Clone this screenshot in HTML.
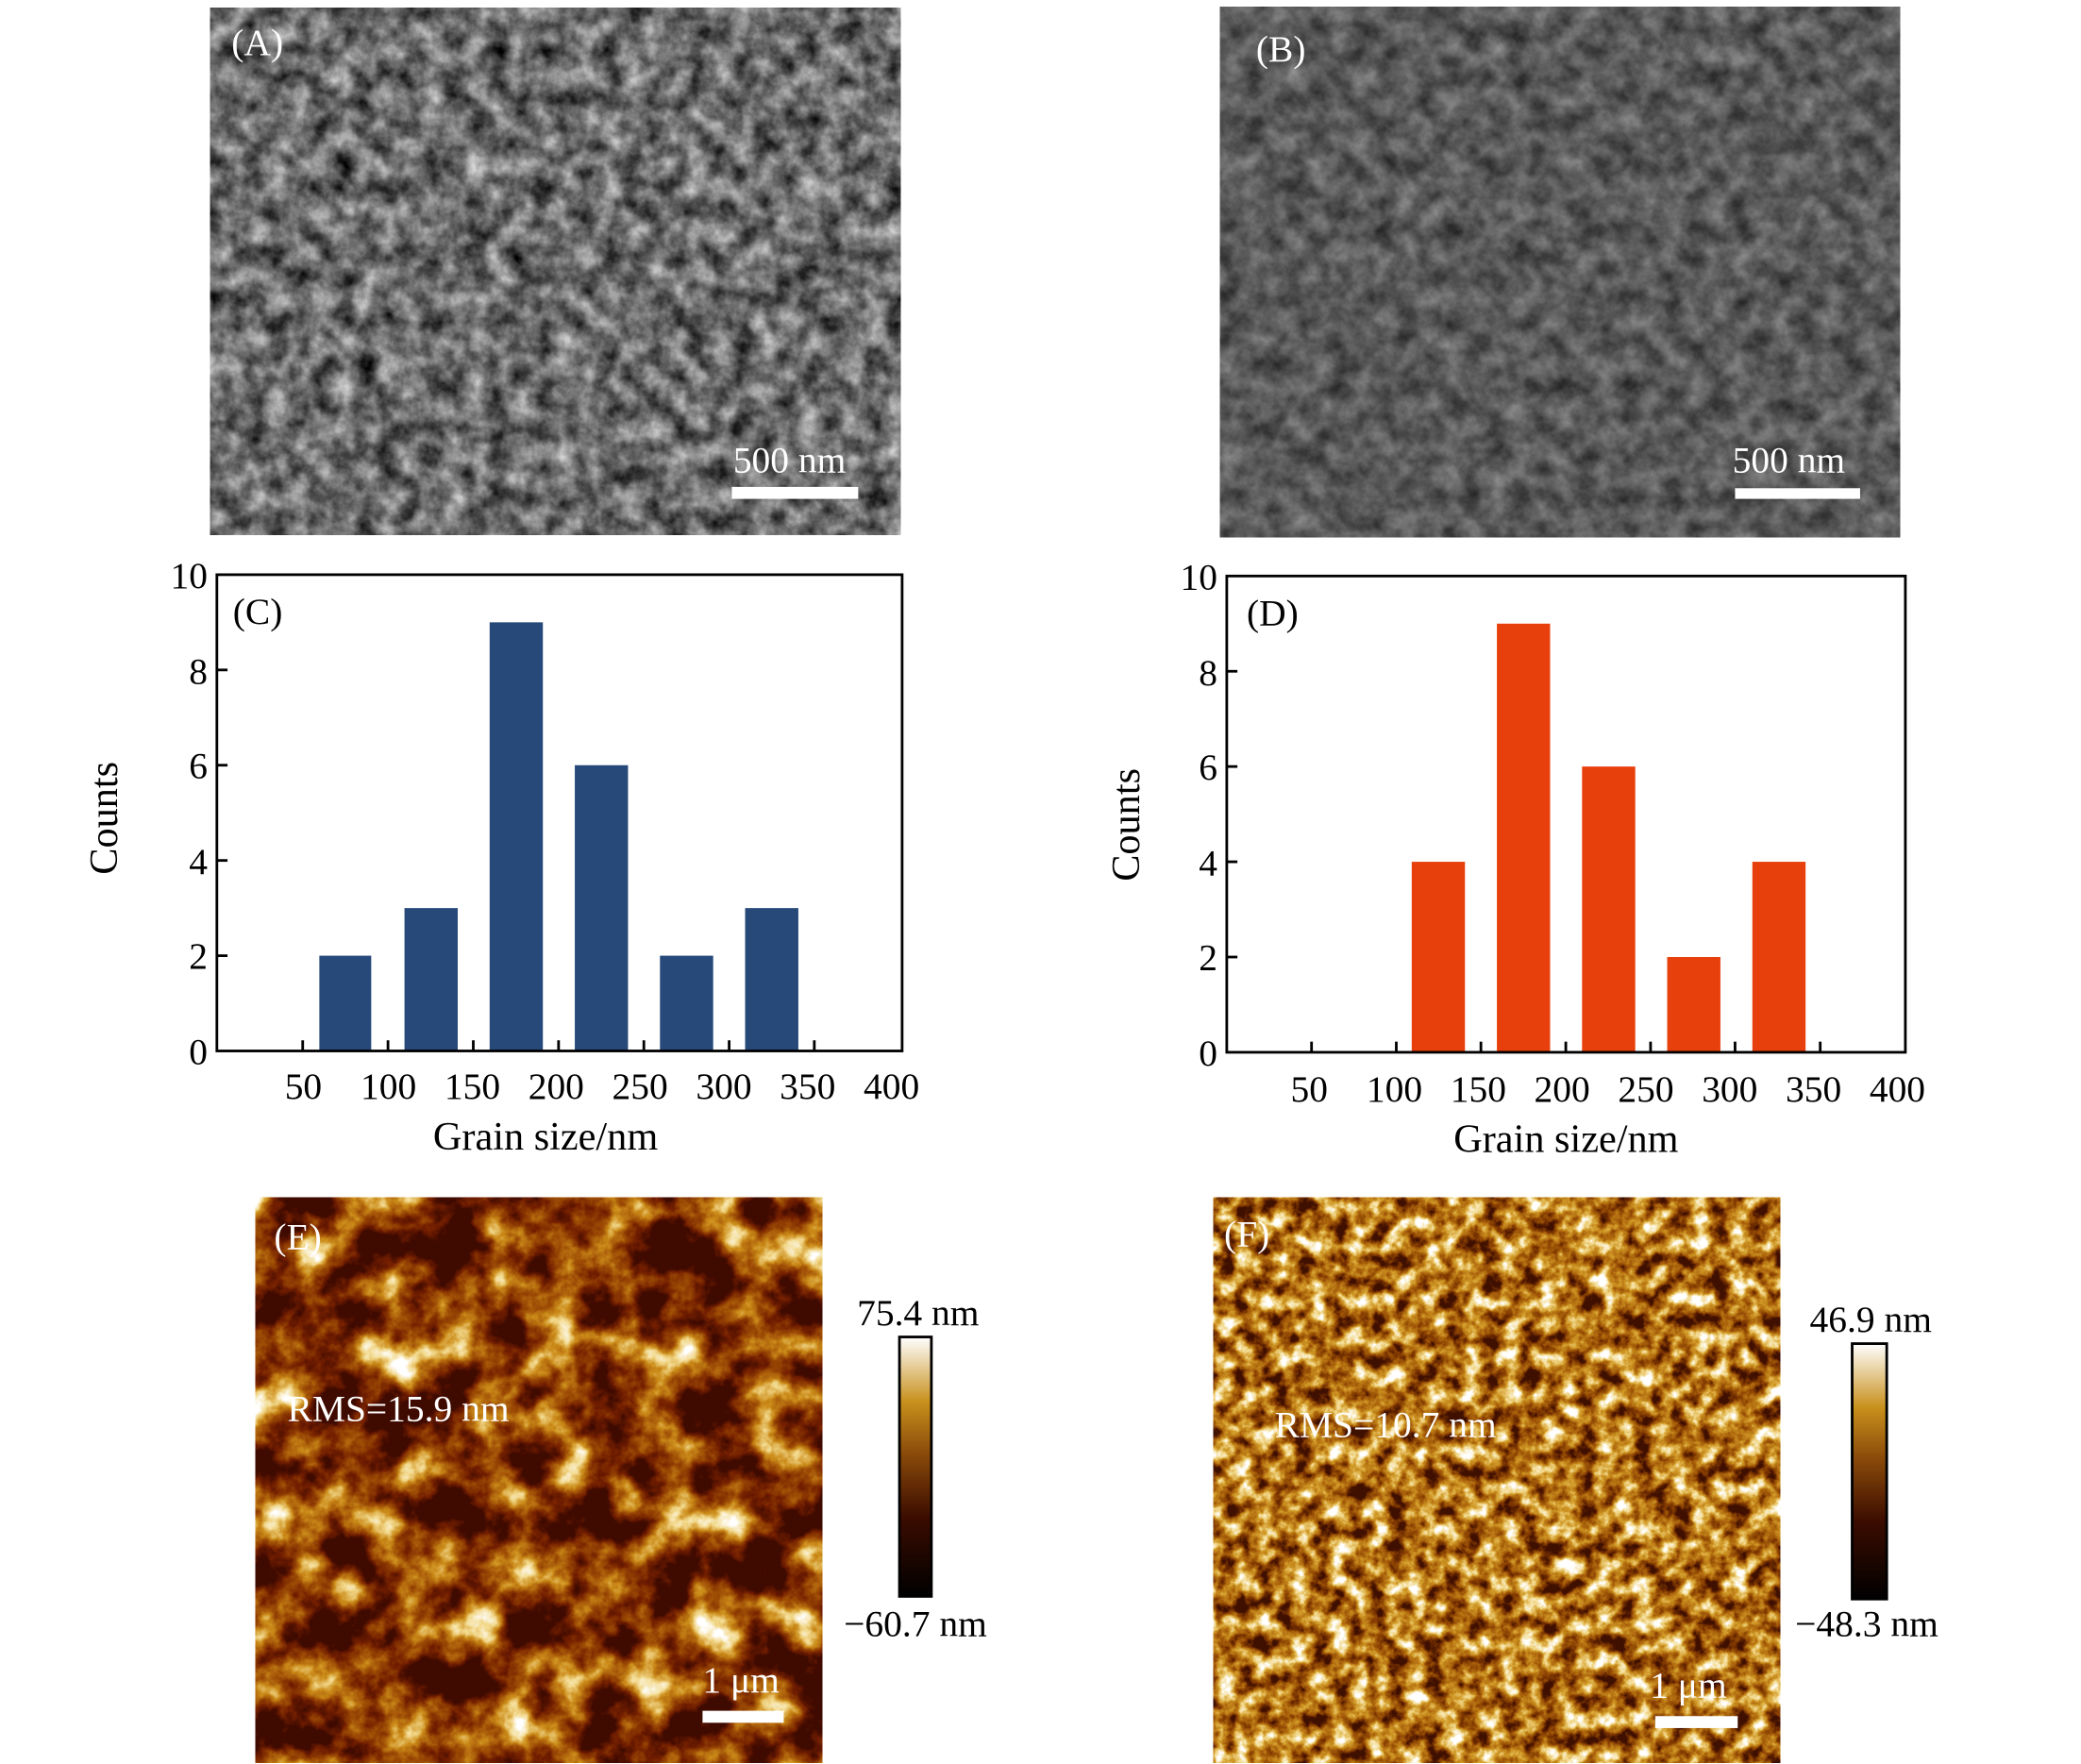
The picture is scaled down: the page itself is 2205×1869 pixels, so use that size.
<!DOCTYPE html>
<html><head><meta charset="utf-8"><style>
html,body{margin:0;padding:0;background:#fff;}
svg{display:block;}
filter{color-interpolation-filters:sRGB;}
</style></head><body>
<svg width="2205" height="1869" viewBox="0 0 1564 1326" preserveAspectRatio="none" xmlns="http://www.w3.org/2000/svg" font-family="'Liberation Serif', 'Times New Roman', serif">
<defs>
<filter id="semA" x="0" y="0" width="100%" height="100%" color-interpolation-filters="sRGB">
<feTurbulence type="fractalNoise" baseFrequency="0.06" numOctaves="4" seed="3"/>
<feColorMatrix type="matrix" values="1.0 0 0 0 -0.08  1.0 0 0 0 -0.08  1.0 0 0 0 -0.08  0 0 0 0 1"/>
</filter>
<filter id="semB" x="0" y="0" width="100%" height="100%" color-interpolation-filters="sRGB">
<feTurbulence type="fractalNoise" baseFrequency="0.06" numOctaves="4" seed="7"/>
<feColorMatrix type="matrix" values="0.5 0 0 0 0.1  0.5 0 0 0 0.1  0.5 0 0 0 0.1  0 0 0 0 1"/>
</filter>
<filter id="afmE" x="0" y="0" width="100%" height="100%" color-interpolation-filters="sRGB">
<feTurbulence type="fractalNoise" baseFrequency="0.025" numOctaves="5" seed="11"/>
<feColorMatrix type="matrix" values="2.2 0 0 0 -0.8  2.2 0 0 0 -0.8  2.2 0 0 0 -0.8  0 0 0 0 1"/>
<feComponentTransfer>
<feFuncR type="table" tableValues="0.25 0.45 0.62 0.8 0.95 1"/>
<feFuncG type="table" tableValues="0.04 0.12 0.3 0.55 0.85 1"/>
<feFuncB type="table" tableValues="0 0 0.02 0.1 0.55 1"/>
</feComponentTransfer>
</filter>
<filter id="afmF" x="0" y="0" width="100%" height="100%" color-interpolation-filters="sRGB">
<feTurbulence type="fractalNoise" baseFrequency="0.07" numOctaves="4" seed="5"/>
<feColorMatrix type="matrix" values="2.0 0 0 0 -0.55  2.0 0 0 0 -0.55  2.0 0 0 0 -0.55  0 0 0 0 1"/>
<feComponentTransfer>
<feFuncR type="table" tableValues="0.25 0.5 0.68 0.82 0.95 1"/>
<feFuncG type="table" tableValues="0.06 0.22 0.4 0.6 0.85 1"/>
<feFuncB type="table" tableValues="0 0 0.05 0.15 0.55 1"/>
</feComponentTransfer>
</filter>
<linearGradient id="cb" x1="0" y1="1" x2="0" y2="0">
<stop offset="0" stop-color="#000"/>
<stop offset="0.3" stop-color="#3a0c00"/>
<stop offset="0.55" stop-color="#8a4a0a"/>
<stop offset="0.75" stop-color="#c8901c"/>
<stop offset="1" stop-color="#fff"/>
</linearGradient>
</defs>

<!-- A -->
<rect x="158" y="6" width="519" height="396" fill="#777" filter="url(#semA)"/>
<text x="174" y="41" font-size="28" fill="#fff">(A)</text>
<text x="551" y="355" font-size="28" fill="#fff">500 nm</text>
<rect x="550" y="366" width="95" height="9" fill="#fff"/>
<!-- B -->
<rect x="917" y="5" width="511" height="399" fill="#666" filter="url(#semB)"/>
<text x="944" y="46" font-size="28" fill="#fff">(B)</text>
<text x="1302" y="355" font-size="28" fill="#fff">500 nm</text>
<rect x="1304" y="367" width="94" height="8" fill="#fff"/>

<!-- C -->
<g fill="#26497a">
<rect x="240" y="718.4" width="39" height="71.6"/>
<rect x="304" y="682.6" width="40" height="107.4"/>
<rect x="368" y="467.8" width="40" height="322.2"/>
<rect x="432" y="575.2" width="40" height="214.8"/>
<rect x="496" y="718.4" width="40" height="71.6"/>
<rect x="560" y="682.6" width="40" height="107.4"/>
</g>
<rect x="163" y="432" width="515" height="358" fill="none" stroke="#000" stroke-width="2"/>
<g stroke="#000" stroke-width="2">
<line x1="227.5" y1="790" x2="227.5" y2="782"/><line x1="291.6" y1="790" x2="291.6" y2="782"/><line x1="355.7" y1="790" x2="355.7" y2="782"/><line x1="419.8" y1="790" x2="419.8" y2="782"/><line x1="483.9" y1="790" x2="483.9" y2="782"/><line x1="548" y1="790" x2="548" y2="782"/><line x1="612" y1="790" x2="612" y2="782"/>
<line x1="163" y1="718.4" x2="171" y2="718.4"/><line x1="163" y1="646.8" x2="171" y2="646.8"/><line x1="163" y1="575.2" x2="171" y2="575.2"/><line x1="163" y1="503.6" x2="171" y2="503.6"/>
</g>
<g font-size="28" text-anchor="end">
<text x="156" y="800">0</text><text x="156" y="728">2</text><text x="156" y="657">4</text><text x="156" y="585">6</text><text x="156" y="514">8</text><text x="156" y="442">10</text>
</g>
<g font-size="28" text-anchor="middle">
<text x="228" y="826">50</text><text x="292" y="826">100</text><text x="355" y="826">150</text><text x="418" y="826">200</text><text x="481" y="826">250</text><text x="544" y="826">300</text><text x="607" y="826">350</text><text x="670" y="826">400</text>
</g>
<text x="410" y="864" font-size="30" text-anchor="middle">Grain size/nm</text>
<text transform="translate(88,615) rotate(-90)" font-size="30" text-anchor="middle">Counts</text>
<text x="175" y="469" font-size="28">(C)</text>

<!-- D -->
<g fill="#e8400c">
<rect x="1061" y="647.8" width="40" height="143.2"/>
<rect x="1125" y="468.8" width="40" height="322.2"/>
<rect x="1189" y="576.2" width="40" height="214.8"/>
<rect x="1253" y="719.4" width="40" height="71.6"/>
<rect x="1317" y="647.8" width="40" height="143.2"/>
</g>
<rect x="922" y="433" width="510" height="358" fill="none" stroke="#000" stroke-width="2"/>
<g stroke="#000" stroke-width="2">
<line x1="985.7" y1="791" x2="985.7" y2="783"/><line x1="1049.4" y1="791" x2="1049.4" y2="783"/><line x1="1113" y1="791" x2="1113" y2="783"/><line x1="1176.8" y1="791" x2="1176.8" y2="783"/><line x1="1240.5" y1="791" x2="1240.5" y2="783"/><line x1="1304" y1="791" x2="1304" y2="783"/><line x1="1368" y1="791" x2="1368" y2="783"/>
<line x1="922" y1="719.4" x2="930" y2="719.4"/><line x1="922" y1="647.8" x2="930" y2="647.8"/><line x1="922" y1="576.2" x2="930" y2="576.2"/><line x1="922" y1="504.6" x2="930" y2="504.6"/>
</g>
<g font-size="28" text-anchor="end">
<text x="915" y="801">0</text><text x="915" y="729">2</text><text x="915" y="658">4</text><text x="915" y="586">6</text><text x="915" y="515">8</text><text x="915" y="443">10</text>
</g>
<g font-size="28" text-anchor="middle">
<text x="984" y="828">50</text><text x="1048" y="828">100</text><text x="1111" y="828">150</text><text x="1174" y="828">200</text><text x="1237" y="828">250</text><text x="1300" y="828">300</text><text x="1363" y="828">350</text><text x="1426" y="828">400</text>
</g>
<text x="1177" y="866" font-size="30" text-anchor="middle">Grain size/nm</text>
<text transform="translate(856,620) rotate(-90)" font-size="30" text-anchor="middle">Counts</text>
<text x="937" y="470" font-size="28">(D)</text>

<!-- E -->
<rect x="192" y="900" width="426" height="425" fill="#888" filter="url(#afmE)"/>
<text x="206" y="939" font-size="28" fill="#fff">(E)</text>
<text x="216" y="1068" font-size="28" fill="#fff">RMS=15.9 nm</text>
<text x="528" y="1272" font-size="28" fill="#fff">1 μm</text>
<rect x="528" y="1286" width="61" height="9" fill="#fff"/>
<rect x="676" y="1005" width="24" height="195" fill="url(#cb)" stroke="#000" stroke-width="2"/>
<text x="690" y="996" font-size="28" text-anchor="middle">75.4 nm</text>
<text x="688" y="1230" font-size="28" text-anchor="middle">−60.7 nm</text>

<!-- F -->
<rect x="912" y="900" width="426" height="425" fill="#888" filter="url(#afmF)"/>
<text x="920" y="937" font-size="28" fill="#fff">(F)</text>
<text x="958" y="1080" font-size="28" fill="#fff">RMS=10.7 nm</text>
<text x="1240" y="1276" font-size="28" fill="#fff">1 μm</text>
<rect x="1244" y="1290" width="62" height="9" fill="#fff"/>
<rect x="1392" y="1010" width="26" height="192" fill="url(#cb)" stroke="#000" stroke-width="2"/>
<text x="1406" y="1001" font-size="28" text-anchor="middle">46.9 nm</text>
<text x="1403" y="1230" font-size="28" text-anchor="middle">−48.3 nm</text>
</svg>
</body></html>
